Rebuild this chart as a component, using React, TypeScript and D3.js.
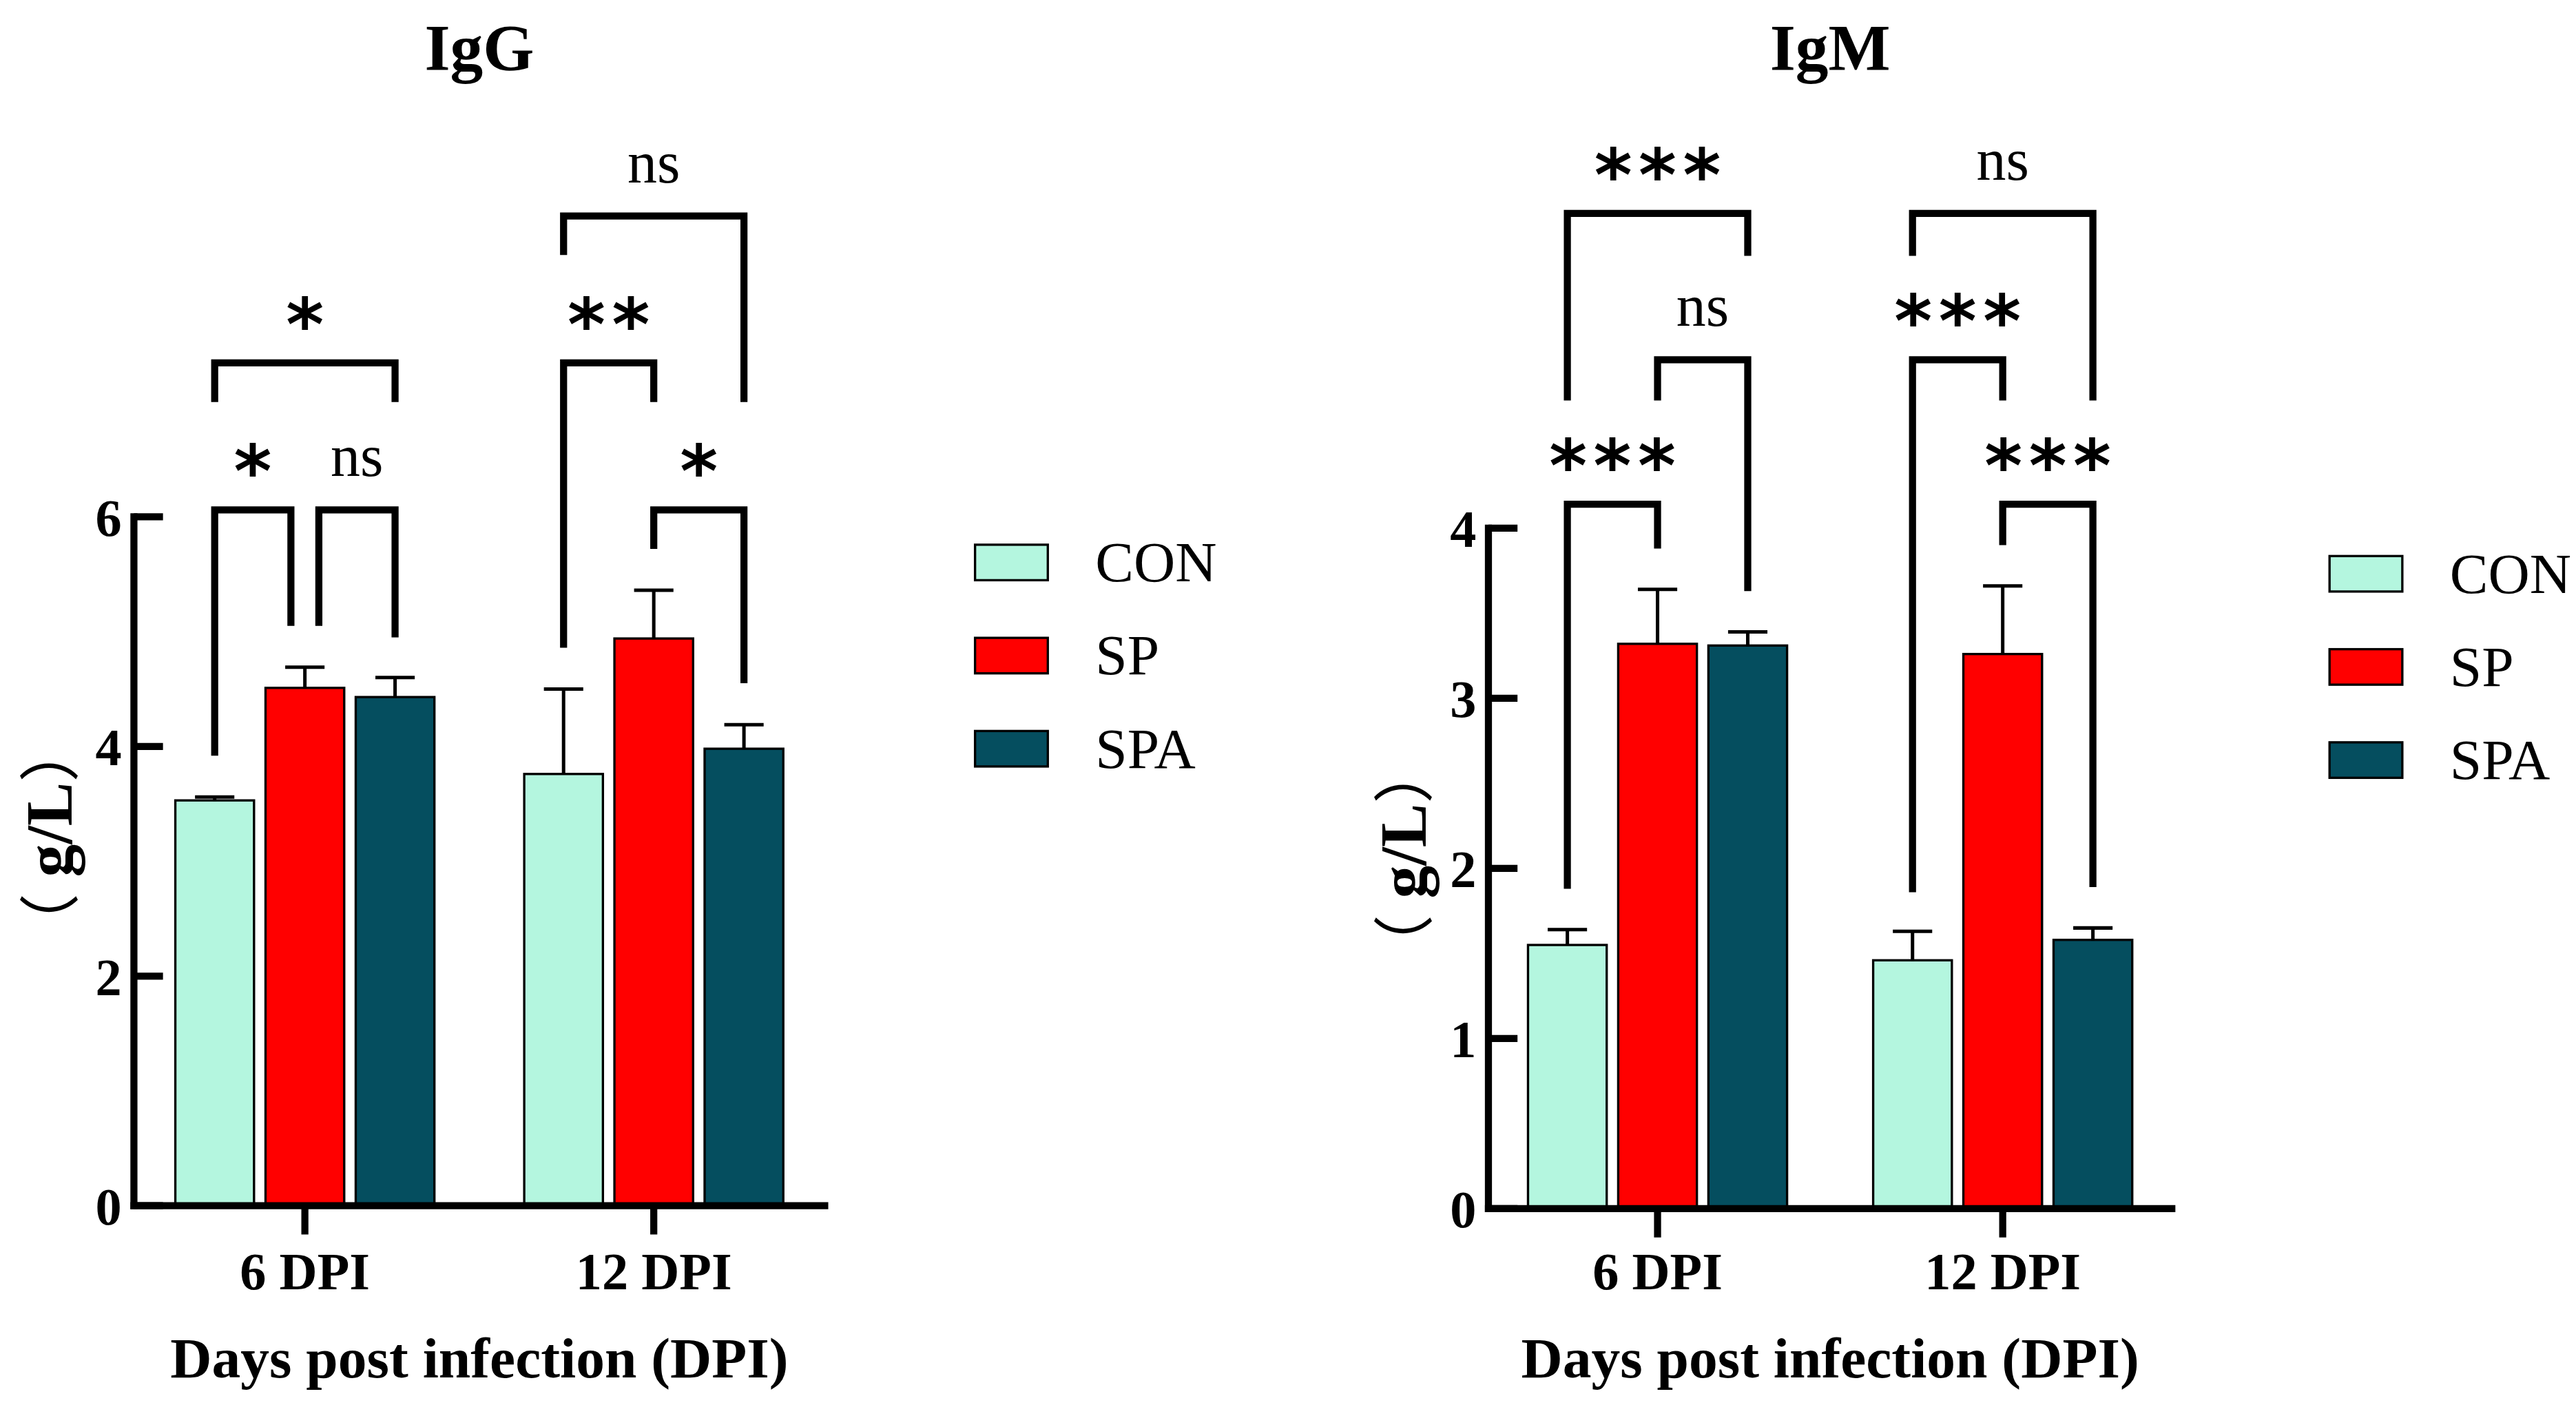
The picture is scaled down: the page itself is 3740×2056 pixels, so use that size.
import React from 'react';
import * as d3 from 'd3';

const W = 1568;
const H = 862;

const groups = ['6 DPI', '12 DPI'];
const seriesNames = ['CON', 'SP', 'SPA'];
const seriesColors = ['#B4F6DF', '#FF0000', '#054E5F'];

// IgG (g/L), rows = groups, columns = series
const iggMeans = [
  [3.53, 4.51, 4.43],
  [3.76, 4.94, 3.98],
];
const iggErrors = [
  [0.03, 0.18, 0.17],
  [0.74, 0.42, 0.21],
];
const iggTicks = [0, 2, 4, 6];

// IgM (g/L)
const igmMeans = [
  [1.55, 3.32, 3.31],
  [1.46, 3.26, 1.58],
];
const igmErrors = [
  [0.09, 0.32, 0.08],
  [0.17, 0.40, 0.07],
];
const igmTicks = [0, 1, 2, 3, 4];

interface Bracket {
  group: number;
  from: number;
  to: number;
  level: number;
  endFrom: number;
  endTo: number;
  label: string;
}

// significance brackets, in data units
const iggBrackets: Bracket[] = [
  { group: 0, from: 0, to: 1, level: 6.06, endFrom: 3.92, endTo: 5.05, label: '*' },
  { group: 0, from: 1, to: 2, level: 6.06, endFrom: 5.05, endTo: 4.95, label: 'ns' },
  { group: 0, from: 0, to: 2, level: 7.34, endFrom: 7.0, endTo: 7.0, label: '*' },
  { group: 1, from: 1, to: 2, level: 6.06, endFrom: 5.72, endTo: 4.55, label: '*' },
  { group: 1, from: 0, to: 1, level: 7.34, endFrom: 4.86, endTo: 7.0, label: '**' },
  { group: 1, from: 0, to: 2, level: 8.62, endFrom: 8.28, endTo: 7.0, label: 'ns' },
];

const igmBrackets: Bracket[] = [
  { group: 0, from: 0, to: 1, level: 4.14, endFrom: 1.88, endTo: 3.88, label: '***' },
  { group: 0, from: 1, to: 2, level: 4.99, endFrom: 4.75, endTo: 3.63, label: 'ns' },
  { group: 0, from: 0, to: 2, level: 5.85, endFrom: 4.75, endTo: 5.6, label: '***' },
  { group: 1, from: 1, to: 2, level: 4.14, endFrom: 3.9, endTo: 1.89, label: '***' },
  { group: 1, from: 0, to: 1, level: 4.99, endFrom: 1.86, endTo: 4.75, label: '***' },
  { group: 1, from: 0, to: 2, level: 5.85, endFrom: 5.6, endTo: 4.75, label: 'ns' },
];

const SERIF = "'Times New Roman', 'Liberation Serif', serif";
const STAR_FONT = "'DejaVu Sans', sans-serif";
const LINE = 4.3;
const STAR_SPACING = 4;

interface PanelSpec {
  title: string;
  means: number[][];
  errors: number[][];
  ticks: number[];
  brackets: Bracket[];
  left: number;
  right: number;
  top: number;
  bottom: number;
  labelY: number;
}

const panels: PanelSpec[] = [
  { title: 'IgG', means: iggMeans, errors: iggErrors, ticks: iggTicks, brackets: iggBrackets,
    left: 81.5, right: 502, top: 314.6, bottom: 734, labelY: 510 },
  { title: 'IgM', means: igmMeans, errors: igmErrors, ticks: igmTicks, brackets: igmBrackets,
    left: 906, right: 1322, top: 321.5, bottom: 735.8, labelY: 523 },
];

const Panel: React.FC<{ p: PanelSpec }> = ({ p }) => {
  const x = d3.scalePoint<string>().domain(groups).range([p.left, p.right]).padding(0.49);
  const inner = d3.scaleBand<string>().domain(seriesNames).range([-78.85, 78.85]).paddingInner(0.1275);
  const y = d3.scaleLinear().domain([0, d3.max(p.ticks) as number]).range([p.bottom, p.top]);
  const bw = inner.bandwidth();
  const barLeft = (g: number, s: number) => (x(groups[g]) as number) + (inner(seriesNames[s]) as number);
  const barMid = (g: number, s: number) => barLeft(g, s) + bw / 2;
  const midX = (p.left + p.right) / 2;

  // legs that meet a neighbouring bracket on the same level are pushed apart
  const legX = (b: Bracket, end: 'from' | 'to') => {
    const s = end === 'from' ? b.from : b.to;
    let dx = 0;
    p.brackets.forEach(o => {
      if (o === b || o.group !== b.group || o.level !== b.level) return;
      if (end === 'to' && o.from === b.to) dx = -8.5;
      if (end === 'from' && o.to === b.from) dx = 8.5;
    });
    return barMid(b.group, s) + dx;
  };

  return (
    <g>
      <text x={midX} y={42.6} textAnchor="middle" fontFamily={SERIF} fontWeight="bold" fontSize={40}>
        {p.title}
      </text>

      {/* bars */}
      {p.means.map((row, g) => row.map((v, s) => (
        <rect
          key={`bar-${g}-${s}`}
          x={barLeft(g, s)}
          y={y(v)}
          width={bw}
          height={y(0) - y(v)}
          fill={seriesColors[s]}
          stroke="#000"
          strokeWidth={1.4}
        />
      )))}

      {/* error bars, upper only */}
      {p.means.map((row, g) => row.map((v, s) => {
        const cx = barMid(g, s);
        const yt = y(v + p.errors[g][s]);
        return (
          <g key={`err-${g}-${s}`} stroke="#000" strokeWidth={2.1}>
            <line x1={cx} x2={cx} y1={y(v)} y2={yt} />
            <line x1={cx - bw / 4} x2={cx + bw / 4} y1={yt} y2={yt} />
          </g>
        );
      }))}

      {/* y axis */}
      <line x1={p.left} x2={p.left} y1={y(d3.max(p.ticks) as number)} y2={y(0)}
        stroke="#000" strokeWidth={LINE} strokeLinecap="square" />
      {p.ticks.map(t => (
        <g key={`yt-${t}`}>
          <line x1={p.left} x2={p.left + 17.7} y1={y(t)} y2={y(t)} stroke="#000" strokeWidth={LINE} />
          <text x={p.left - 7.4} y={y(t) + 11.5} textAnchor="end" fontFamily={SERIF}
            fontWeight="bold" fontSize={32}>{t}</text>
        </g>
      ))}

      {/* x axis */}
      <line x1={p.left} x2={p.right} y1={y(0)} y2={y(0)} stroke="#000" strokeWidth={LINE}
        strokeLinecap="square" />
      {groups.map(gname => (
        <g key={`xt-${gname}`}>
          <line x1={x(gname)} x2={x(gname)} y1={y(0)} y2={y(0) + 17.5} stroke="#000" strokeWidth={LINE} />
          <text x={x(gname)} y={785} textAnchor="middle" fontFamily={SERIF} fontWeight="bold"
            fontSize={32}>{gname}</text>
        </g>
      ))}
      <text x={midX} y={838.5} textAnchor="middle" fontFamily={SERIF} fontWeight="bold" fontSize={35}>
        Days post infection (DPI)
      </text>

      {/* y axis title */}
      <text
        transform={`translate(${p.left - 38}, ${p.labelY}) rotate(-90)`}
        textAnchor="middle"
        fontFamily={`${SERIF.replace(', serif', '')}, 'Noto Sans CJK SC', serif`}
        fontWeight="bold"
        fontSize={40}
      >
        <tspan fontWeight="normal" fontSize={37} fontFamily="'Noto Sans CJK SC', sans-serif">（</tspan>
        {' g/L'}
        <tspan fontWeight="normal" fontSize={37} fontFamily="'Noto Sans CJK SC', sans-serif">）</tspan>
      </text>

      {/* significance brackets */}
      {p.brackets.map((b, i) => {
        const xa = legX(b, 'from');
        const xb = legX(b, 'to');
        const yl = y(b.level);
        const isStar = b.label !== 'ns';
        return (
          <g key={`br-${i}`}>
            <path
              d={`M${xa},${y(b.endFrom)}V${yl}H${xb}V${y(b.endTo)}`}
              fill="none"
              stroke="#000"
              strokeWidth={LINE}
              strokeLinejoin="miter"
            />
            {isStar ? (
              <text x={(xa + xb) / 2 + STAR_SPACING / 2} y={yl - 8} textAnchor="middle"
                fontFamily={STAR_FONT} fontWeight="bold" fontSize={44}
                letterSpacing={STAR_SPACING}>{b.label}</text>
            ) : (
              <text x={(xa + xb) / 2} y={yl - 20.5} textAnchor="middle" fontFamily={SERIF}
                fontSize={36}>{b.label}</text>
            )}
          </g>
        );
      })}

      {/* legend */}
      {seriesNames.map((name, s) => {
        const ly = p.top + 17 + s * 56.7;
        return (
          <g key={`lg-${name}`}>
            <rect x={p.left + 512} y={ly} width={44.3} height={21.6} fill={seriesColors[s]}
              stroke="#000" strokeWidth={1.4} />
            <text x={p.left + 585.2} y={ly + 22.3} fontFamily={SERIF} fontSize={35}>{name}</text>
          </g>
        );
      })}
    </g>
  );
};

export default function App() {
  return (
    <svg
      width={3740}
      height={2056}
      viewBox={`0 0 ${W} ${H}`}
      style={{ position: 'absolute', left: 0, top: 0, background: '#fff' }}
    >
      <rect x={0} y={0} width={W} height={H} fill="#fff" />
      {panels.map(p => <Panel key={p.title} p={p} />)}
    </svg>
  );
}
